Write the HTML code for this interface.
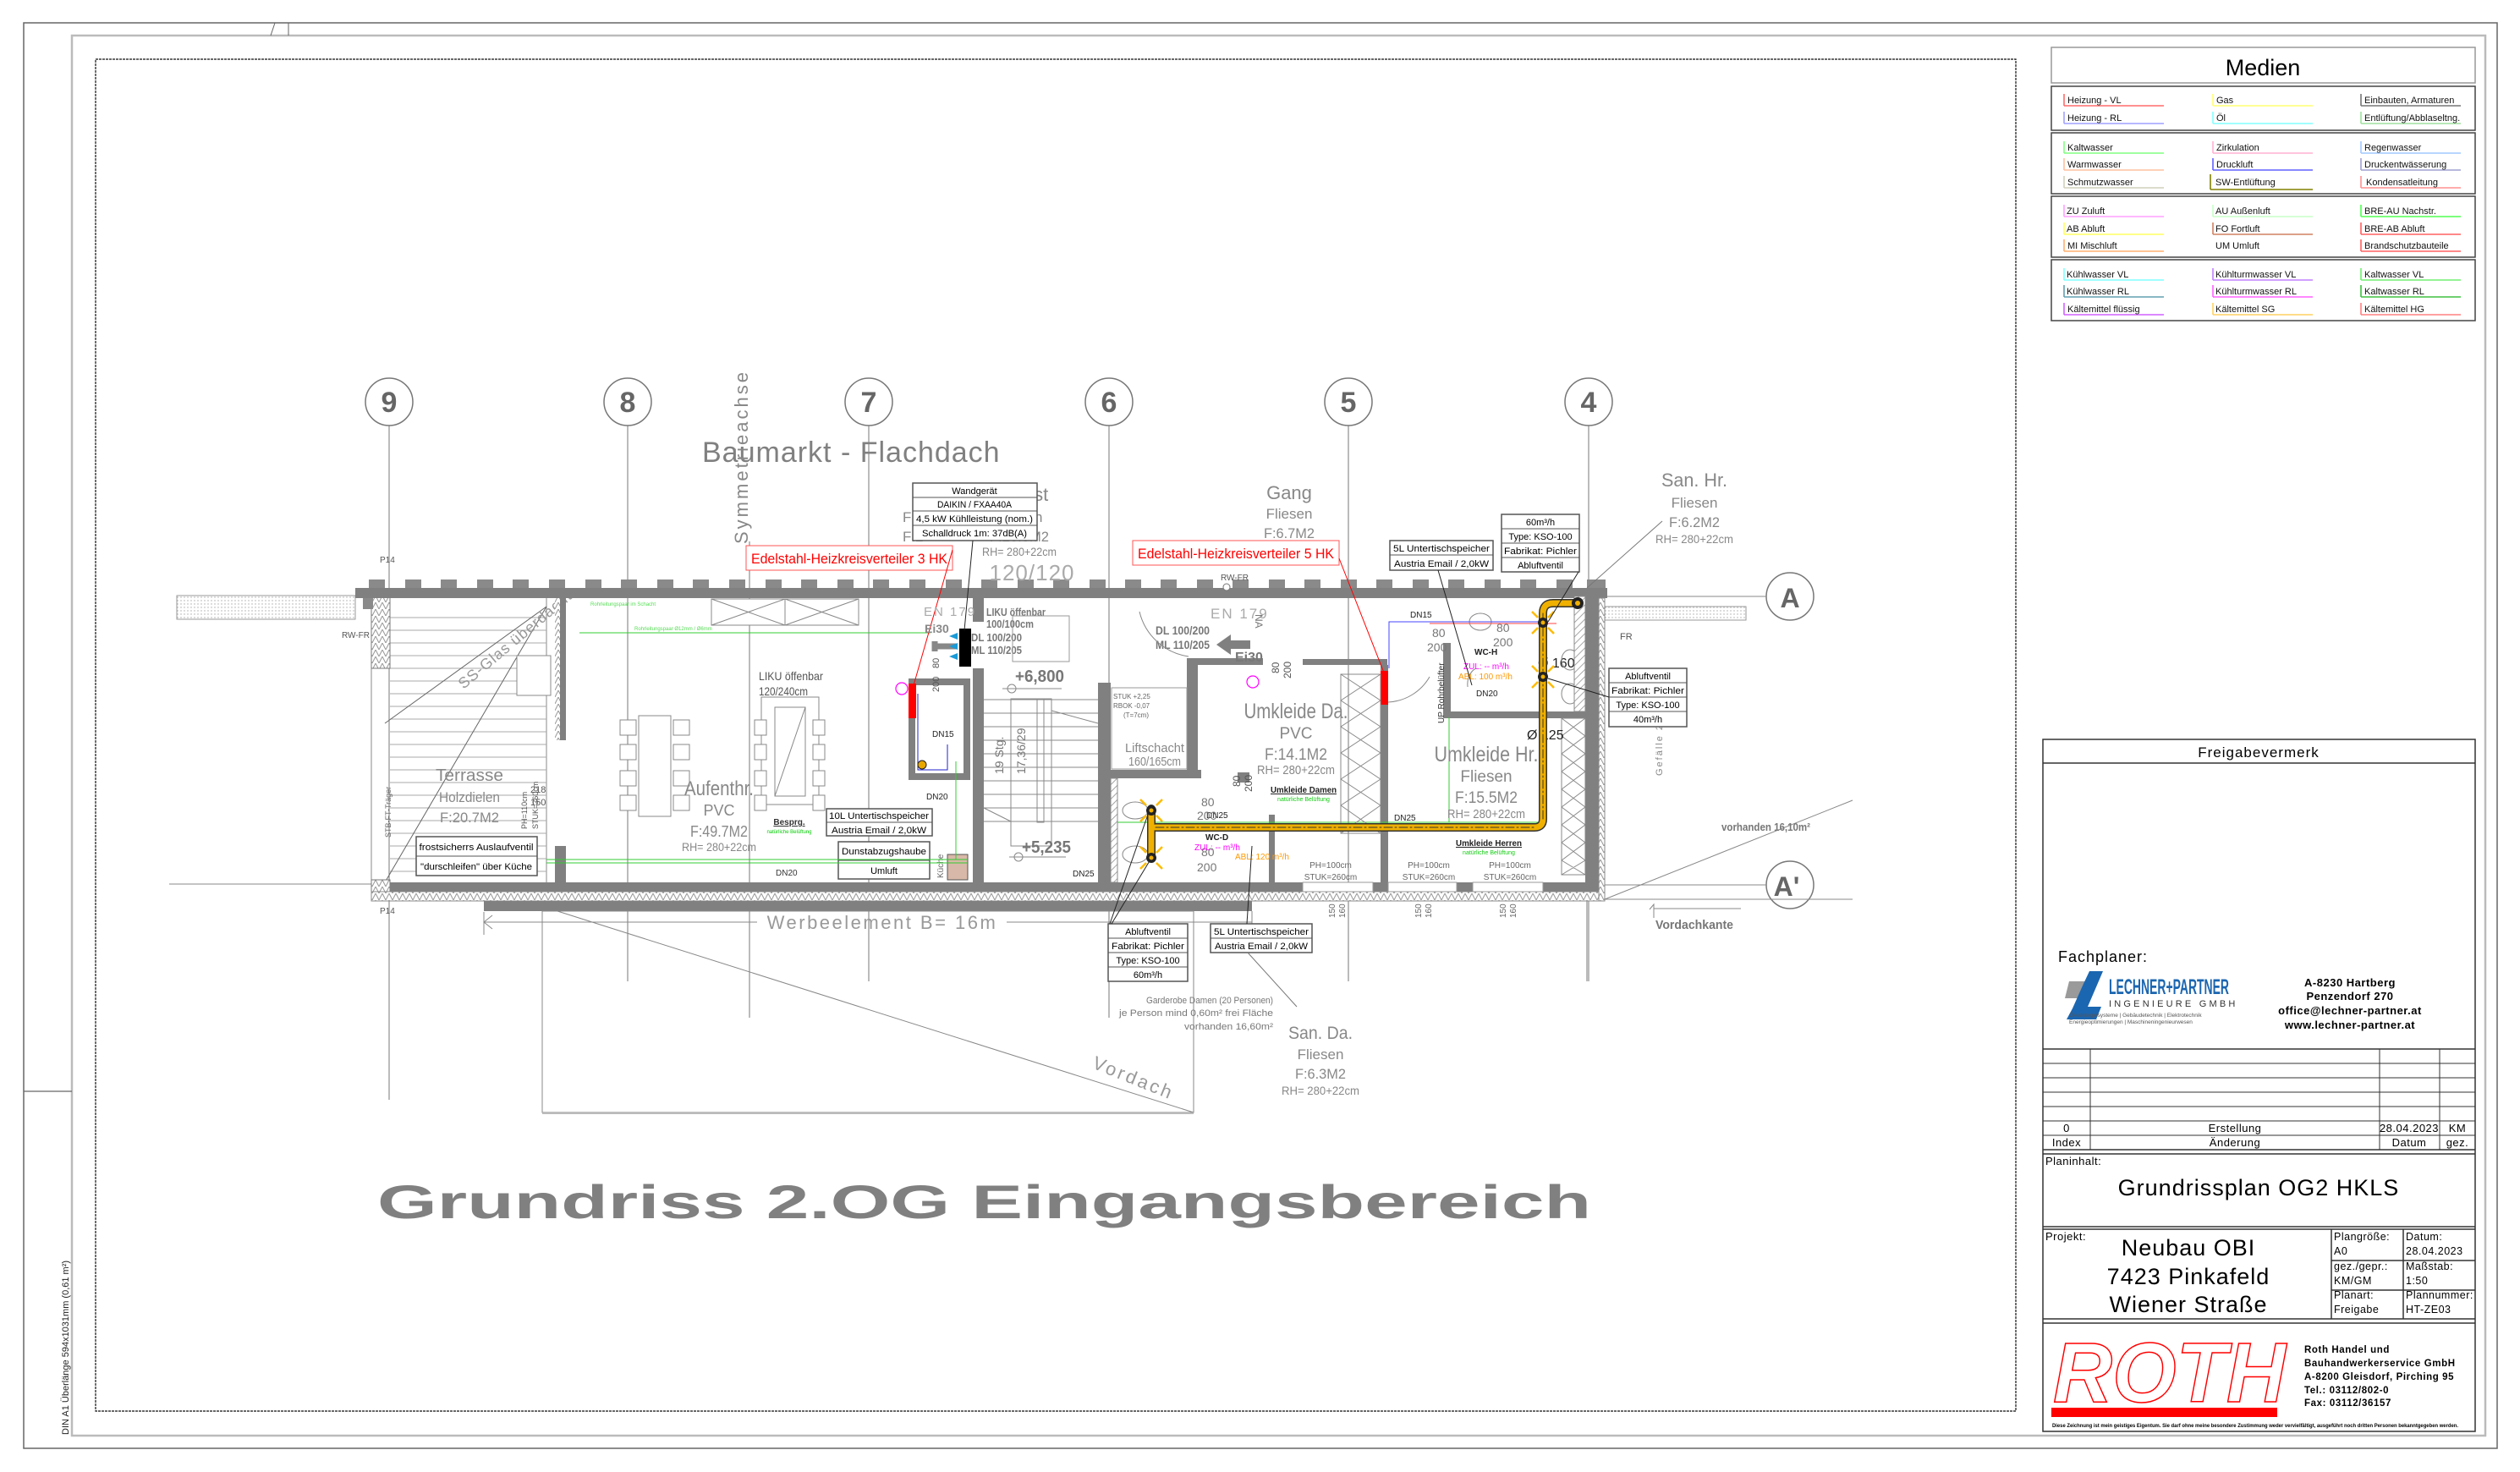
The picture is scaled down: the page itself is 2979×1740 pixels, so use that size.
<!DOCTYPE html>
<html><head><meta charset="utf-8"><style>
html,body{margin:0;padding:0;background:#fff;}
svg{display:block;}
text{font-family:"Liberation Sans",sans-serif;}
.n{font-family:"Liberation Sans Narrow","Liberation Sans",sans-serif;}
.g{fill:#808080;}
.bx{fill:#fff;stroke:#555;stroke-width:1.5;}
.t11{font-size:11px;fill:#000;}
</style></head><body>
<svg width="2979" height="1740" viewBox="0 0 2979 1740" xmlns="http://www.w3.org/2000/svg">
<defs>
<pattern id="hat" width="6" height="6" patternUnits="userSpaceOnUse" patternTransform="rotate(45)">
<rect width="6" height="6" fill="#fff"/><line x1="0" y1="0" x2="0" y2="6" stroke="#888" stroke-width="1.5"/></pattern>
<pattern id="zig" width="8" height="8" patternUnits="userSpaceOnUse">
<rect width="8" height="8" fill="#fff"/><path d="M0,8 L4,0 L8,8" fill="none" stroke="#999" stroke-width="1"/></pattern>
<pattern id="dots" width="4" height="4" patternUnits="userSpaceOnUse">
<rect width="4" height="4" fill="#fff"/><circle cx="2" cy="2" r="0.7" fill="#aaa"/></pattern>
</defs>

<!-- frames -->
<rect x="28" y="27" width="2924" height="1685" fill="none" stroke="#666" stroke-width="1.5"/>
<rect x="85" y="42" width="2853" height="1655" fill="none" stroke="#bbb" stroke-width="2.5"/>
<rect x="113" y="70" width="2270" height="1598" fill="none" stroke="#111" stroke-width="1.2" stroke-dasharray="3,1"/>
<line x1="28" y1="1290" x2="85" y2="1290" stroke="#666" stroke-width="1.2"/>
<line x1="325" y1="27" x2="320" y2="42" stroke="#666"/><line x1="341" y1="27" x2="341" y2="42" stroke="#666"/>
<text transform="translate(81,1696) rotate(-90)" font-size="11" fill="#222">DIN A1 Überlänge 594x1031mm (0,61 m²)</text>

<!-- ============ MEDIEN ============ -->
<g stroke="#444" stroke-width="1.5" fill="none">
<rect x="2425" y="56" width="501" height="42" stroke="#999"/>
<rect x="2425" y="102" width="501" height="52"/>
<rect x="2425" y="157" width="501" height="72"/>
<rect x="2425" y="232" width="501" height="72"/>
<rect x="2425" y="307" width="501" height="72"/>
</g>
<text x="2675" y="89" font-size="27" text-anchor="middle" fill="#000">Medien</text>
<g font-size="11" fill="#111" stroke-width="1.6">
<g><line x1="2440" y1="111" x2="2440" y2="125" stroke="#ff6a6a"/><line x1="2440" y1="125" x2="2558" y2="125" stroke="#ff6a6a"/><text x="2444" y="122">Heizung - VL</text></g>
<g><line x1="2440" y1="132" x2="2440" y2="146" stroke="#a0a0ff"/><line x1="2440" y1="146" x2="2558" y2="146" stroke="#a0a0ff"/><text x="2444" y="143">Heizung - RL</text></g>
<g><line x1="2616" y1="111" x2="2616" y2="125" stroke="#ffff70"/><line x1="2616" y1="125" x2="2734" y2="125" stroke="#ffff70"/><text x="2620" y="122">Gas</text></g>
<g><line x1="2616" y1="132" x2="2616" y2="146" stroke="#80ffff"/><line x1="2616" y1="146" x2="2734" y2="146" stroke="#80ffff"/><text x="2620" y="143">Öl</text></g>
<g><line x1="2791" y1="111" x2="2791" y2="125" stroke="#777"/><line x1="2791" y1="125" x2="2909" y2="125" stroke="#777"/><text x="2795" y="122">Einbauten, Armaturen</text></g>
<g><line x1="2791" y1="132" x2="2791" y2="146" stroke="#9fdf9f"/><line x1="2791" y1="146" x2="2909" y2="146" stroke="#9fdf9f"/><text x="2795" y="143">Entlüftung/Abblaseltng.</text></g>

<g><line x1="2440" y1="167" x2="2440" y2="181" stroke="#80ff80"/><line x1="2440" y1="181" x2="2558" y2="181" stroke="#80ff80"/><text x="2444" y="178">Kaltwasser</text></g>
<g><line x1="2440" y1="187" x2="2440" y2="201" stroke="#ffc0a0"/><line x1="2440" y1="201" x2="2558" y2="201" stroke="#ffc0a0"/><text x="2444" y="198">Warmwasser</text></g>
<g><line x1="2440" y1="208" x2="2440" y2="222" stroke="#d0d0bc"/><line x1="2440" y1="222" x2="2558" y2="222" stroke="#d0d0bc"/><text x="2444" y="219">Schmutzwasser</text></g>
<g><line x1="2616" y1="167" x2="2616" y2="181" stroke="#ffb0d0"/><line x1="2616" y1="181" x2="2734" y2="181" stroke="#ffb0d0"/><text x="2620" y="178">Zirkulation</text></g>
<g><line x1="2616" y1="187" x2="2616" y2="201" stroke="#6060ff"/><line x1="2616" y1="201" x2="2734" y2="201" stroke="#6060ff"/><text x="2620" y="198">Druckluft</text></g>
<g><line x1="2613" y1="206" x2="2613" y2="224" stroke="#808000"/><line x1="2613" y1="224" x2="2734" y2="224" stroke="#808000"/><text x="2619" y="219">SW-Entlüftung</text></g>
<g><line x1="2791" y1="167" x2="2791" y2="181" stroke="#a0c8ff"/><line x1="2791" y1="181" x2="2909" y2="181" stroke="#a0c8ff"/><text x="2795" y="178">Regenwasser</text></g>
<g><line x1="2791" y1="187" x2="2791" y2="201" stroke="#a0a0d0"/><line x1="2791" y1="201" x2="2909" y2="201" stroke="#a0a0d0"/><text x="2795" y="198">Druckentwässerung</text></g>
<g><line x1="2791" y1="208" x2="2791" y2="222" stroke="#ff9090"/><line x1="2791" y1="222" x2="2909" y2="222" stroke="#ff9090"/><text x="2797" y="219">Kondensatleitung</text></g>

<g><line x1="2440" y1="242" x2="2440" y2="256" stroke="#ffa0ff"/><line x1="2440" y1="256" x2="2558" y2="256" stroke="#ffa0ff"/><text x="2443" y="253">ZU Zuluft</text></g>
<g><line x1="2440" y1="263" x2="2440" y2="277" stroke="#ffff60"/><line x1="2440" y1="277" x2="2558" y2="277" stroke="#ffff60"/><text x="2443" y="274">AB Abluft</text></g>
<g><line x1="2440" y1="283" x2="2440" y2="297" stroke="#ffb070"/><line x1="2440" y1="297" x2="2558" y2="297" stroke="#ffb070"/><text x="2444" y="294">MI Mischluft</text></g>
<g><line x1="2616" y1="242" x2="2616" y2="256" stroke="#c8ffc8"/><line x1="2616" y1="256" x2="2734" y2="256" stroke="#c8ffc8"/><text x="2619" y="253">AU Außenluft</text></g>
<g><line x1="2616" y1="263" x2="2616" y2="277" stroke="#d08060"/><line x1="2616" y1="277" x2="2734" y2="277" stroke="#d08060"/><text x="2619" y="274">FO Fortluft</text></g>
<g><text x="2619" y="294">UM Umluft</text></g>
<g><line x1="2791" y1="242" x2="2791" y2="256" stroke="#50ff50"/><line x1="2791" y1="256" x2="2909" y2="256" stroke="#50ff50"/><text x="2795" y="253">BRE-AU Nachstr.</text></g>
<g><line x1="2791" y1="263" x2="2791" y2="277" stroke="#ff6060"/><line x1="2791" y1="277" x2="2909" y2="277" stroke="#ff6060"/><text x="2795" y="274">BRE-AB Abluft</text></g>
<g><line x1="2791" y1="283" x2="2791" y2="297" stroke="#ff6060"/><line x1="2791" y1="297" x2="2909" y2="297" stroke="#ff6060"/><text x="2795" y="294">Brandschutzbauteile</text></g>

<g><line x1="2440" y1="317" x2="2440" y2="331" stroke="#80ffff"/><line x1="2440" y1="331" x2="2558" y2="331" stroke="#80ffff"/><text x="2443" y="328">Kühlwasser VL</text></g>
<g><line x1="2440" y1="337" x2="2440" y2="351" stroke="#60a0b0"/><line x1="2440" y1="351" x2="2558" y2="351" stroke="#60a0b0"/><text x="2443" y="348">Kühlwasser RL</text></g>
<g><line x1="2440" y1="358" x2="2440" y2="372" stroke="#d060ff"/><line x1="2440" y1="372" x2="2558" y2="372" stroke="#d060ff"/><text x="2444" y="369">Kältemittel flüssig</text></g>
<g><line x1="2616" y1="317" x2="2616" y2="331" stroke="#c080ff"/><line x1="2616" y1="331" x2="2734" y2="331" stroke="#c080ff"/><text x="2619" y="328">Kühlturmwasser VL</text></g>
<g><line x1="2616" y1="337" x2="2616" y2="351" stroke="#ff60ff"/><line x1="2616" y1="351" x2="2734" y2="351" stroke="#ff60ff"/><text x="2619" y="348">Kühlturmwasser RL</text></g>
<g><line x1="2616" y1="358" x2="2616" y2="372" stroke="#ffd060"/><line x1="2616" y1="372" x2="2734" y2="372" stroke="#ffd060"/><text x="2619" y="369">Kältemittel SG</text></g>
<g><line x1="2791" y1="317" x2="2791" y2="331" stroke="#70f070"/><line x1="2791" y1="331" x2="2909" y2="331" stroke="#70f070"/><text x="2795" y="328">Kaltwasser VL</text></g>
<g><line x1="2791" y1="337" x2="2791" y2="351" stroke="#40c040"/><line x1="2791" y1="351" x2="2909" y2="351" stroke="#40c040"/><text x="2795" y="348">Kaltwasser RL</text></g>
<g><line x1="2791" y1="358" x2="2791" y2="372" stroke="#ff8080"/><line x1="2791" y1="372" x2="2909" y2="372" stroke="#ff8080"/><text x="2795" y="369">Kältemittel HG</text></g>
</g>

<!-- ============ TITLE BLOCK ============ -->
<g stroke="#333" stroke-width="1.5" fill="none">
<rect x="2415" y="874" width="511" height="818"/>
<line x1="2415" y1="902" x2="2926" y2="902"/>
<line x1="2415" y1="1240" x2="2926" y2="1240"/>
<g stroke-width="1">
<line x1="2415" y1="1257" x2="2926" y2="1257"/><line x1="2415" y1="1274" x2="2926" y2="1274"/>
<line x1="2415" y1="1291" x2="2926" y2="1291"/><line x1="2415" y1="1308" x2="2926" y2="1308"/>
<line x1="2415" y1="1325" x2="2926" y2="1325"/><line x1="2415" y1="1342" x2="2926" y2="1342"/>
<line x1="2471" y1="1240" x2="2471" y2="1359"/><line x1="2813" y1="1240" x2="2813" y2="1359"/><line x1="2884" y1="1240" x2="2884" y2="1359"/>
</g>
<line x1="2415" y1="1359" x2="2926" y2="1359"/>
<line x1="2415" y1="1364" x2="2926" y2="1364"/>
<line x1="2415" y1="1450" x2="2926" y2="1450"/>
<line x1="2415" y1="1453" x2="2926" y2="1453"/>
<line x1="2756" y1="1453" x2="2756" y2="1559"/><line x1="2841" y1="1453" x2="2841" y2="1559"/>
<line x1="2756" y1="1490" x2="2926" y2="1490"/><line x1="2756" y1="1525" x2="2926" y2="1525"/>
<line x1="2415" y1="1559" x2="2926" y2="1559"/>
<line x1="2415" y1="1564" x2="2926" y2="1564"/>
</g>
<text x="2670" y="895" font-size="17" text-anchor="middle" letter-spacing="1" fill="#000">Freigabevermerk</text>
<text x="2433" y="1137" font-size="18" letter-spacing="1" fill="#000">Fachplaner:</text>
<!-- Lechner logo -->
<polygon points="2446,1160 2470,1160 2458,1180 2441,1180" fill="#9a9a9a"/>
<polygon points="2470,1148 2486,1148 2468,1190 2484,1190 2478,1205 2443,1205 2450,1192 2462,1165" fill="#1b66b0"/>
<text x="2493" y="1175" font-size="25" font-weight="bold" fill="#1b66b0" textLength="142" lengthAdjust="spacingAndGlyphs">LECHNER+PARTNER</text>
<text x="2493" y="1190" font-size="11" letter-spacing="3.2" fill="#333">INGENIEURE GMBH</text>
<text x="2446" y="1202" font-size="6.5" fill="#555">Ökoenergiesysteme | Gebäudetechnik | Elektrotechnik</text>
<text x="2446" y="1210" font-size="6.5" fill="#555">Energieoptimierungen | Maschineningenieurwesen</text>
<g font-size="13" font-weight="bold" text-anchor="middle" fill="#000" letter-spacing="0.5">
<text x="2778" y="1166">A-8230 Hartberg</text>
<text x="2778" y="1182">Penzendorf 270</text>
<text x="2778" y="1199">office@lechner-partner.at</text>
<text x="2778" y="1216">www.lechner-partner.at</text>
</g>
<g font-size="13" fill="#000" text-anchor="middle" letter-spacing="0.5">
<text x="2443" y="1338">0</text><text x="2642" y="1338">Erstellung</text><text x="2848" y="1338">28.04.2023</text><text x="2905" y="1338">KM</text>
<text x="2443" y="1355">Index</text><text x="2642" y="1355">Änderung</text><text x="2848" y="1355">Datum</text><text x="2905" y="1355">gez.</text>
</g>
<text x="2418" y="1377" font-size="13" fill="#000" letter-spacing="0.5">Planinhalt:</text>
<text x="2670" y="1413" font-size="27" text-anchor="middle" fill="#000" letter-spacing="1">Grundrissplan OG2 HKLS</text>
<text x="2418" y="1466" font-size="13" fill="#000" letter-spacing="0.5">Projekt:</text>
<g font-size="27" text-anchor="middle" fill="#000" letter-spacing="1">
<text x="2587" y="1484">Neubau OBI</text>
<text x="2587" y="1518">7423 Pinkafeld</text>
<text x="2587" y="1551">Wiener Straße</text>
</g>
<g font-size="12.5" fill="#000" letter-spacing="0.5">
<text x="2759" y="1466">Plangröße:</text><text x="2759" y="1483">A0</text>
<text x="2844" y="1466">Datum:</text><text x="2844" y="1483">28.04.2023</text>
<text x="2759" y="1501">gez./gepr.:</text><text x="2759" y="1518">KM/GM</text>
<text x="2844" y="1501">Maßstab:</text><text x="2844" y="1518">1:50</text>
<text x="2759" y="1535">Planart:</text><text x="2759" y="1552">Freigabe</text>
<text x="2844" y="1535">Plannummer:</text><text x="2844" y="1552">HT-ZE03</text>
</g>
<text x="2427" y="1657" font-size="100" font-weight="bold" font-style="italic" fill="none" stroke="#f00" stroke-width="1.5" textLength="275" lengthAdjust="spacingAndGlyphs">ROTH</text>
<rect x="2425" y="1664" width="267" height="11" fill="#f00"/>
<g font-size="11.5" font-weight="bold" fill="#000" letter-spacing="0.6">
<text x="2724" y="1599">Roth Handel und</text>
<text x="2724" y="1615">Bauhandwerkerservice GmbH</text>
<text x="2724" y="1631">A-8200 Gleisdorf, Pirching 95</text>
<text x="2724" y="1647">Tel.: 03112/802-0</text>
<text x="2724" y="1662">Fax: 03112/36157</text>
</g>
<text x="2426" y="1687" font-size="6.5" font-weight="bold" fill="#000" textLength="480" lengthAdjust="spacingAndGlyphs">Diese Zeichnung ist mein geistiges Eigentum. Sie darf ohne meine besondere Zustimmung weder vervielfältigt, ausgeführt noch dritten Personen bekanntgegeben werden.</text>

<!-- ============ PLAN ============ -->
<g stroke="#777" stroke-width="1" fill="none">
<line x1="460" y1="503" x2="460" y2="1300"/>
<line x1="742" y1="503" x2="742" y2="1160"/>
<line x1="1027" y1="503" x2="1027" y2="1160"/>
<line x1="1311" y1="503" x2="1311" y2="1203"/>
<line x1="1594" y1="503" x2="1594" y2="1160"/>
<line x1="1878" y1="503" x2="1878" y2="1160"/>
<line x1="886" y1="640" x2="886" y2="1203"/>
<line x1="1876" y1="1065" x2="1876" y2="1160"/>
</g>
<g fill="#fff" stroke="#777" stroke-width="1.5">
<ellipse cx="460" cy="475" rx="28" ry="28"/><ellipse cx="742" cy="475" rx="28" ry="28"/>
<ellipse cx="1027" cy="475" rx="28" ry="28"/><ellipse cx="1311" cy="475" rx="28" ry="28"/>
<ellipse cx="1594" cy="475" rx="28" ry="28"/><ellipse cx="1878" cy="475" rx="28" ry="28"/>
<circle cx="2116" cy="705" r="28"/><circle cx="2116" cy="1046" r="28"/>
</g>
<g font-size="34" font-weight="bold" fill="#666" text-anchor="middle">
<text x="460" y="487">9</text><text x="742" y="487">8</text><text x="1027" y="487">7</text>
<text x="1311" y="487">6</text><text x="1594" y="487">5</text><text x="1878" y="487">4</text>
<text x="2116" y="718" font-size="32">A</text><text x="2112" y="1059" font-size="32">A'</text>
</g>

<text x="830" y="546" font-size="34" class="g" letter-spacing="1">Baumarkt - Flachdach</text>
<text transform="translate(884,643) rotate(-90)" font-size="22" fill="#888" textLength="203" lengthAdjust="spacing">Symmetrieachse</text>

<rect x="209" y="704" width="211" height="28" fill="url(#dots)" stroke="#999" stroke-width="1"/>
<line x1="200" y1="1045" x2="439" y2="1045" stroke="#888"/>
<rect x="1890" y="717" width="174" height="16" fill="url(#dots)" stroke="#999" stroke-width="1"/>
<g stroke="#888" stroke-width="1">
<line x1="1897" y1="705" x2="2088" y2="705"/>
<line x1="1897" y1="1046" x2="2088" y2="1046"/>
<line x1="1897" y1="1063" x2="2190" y2="1063"/>
<line x1="1897" y1="1063" x2="2190" y2="946"/>
<polyline points="1955,1085 1955,1069 1950,1075 M1955,1069 1960,1075" fill="none"/>
<line x1="1955" y1="1074" x2="2058" y2="1074"/>
</g>
<text x="2003" y="1098" font-size="15" font-weight="bold" fill="#777" text-anchor="middle" textLength="92" lengthAdjust="spacingAndGlyphs">Vordachkante</text>
<text x="2035" y="982" font-size="13" font-weight="bold" fill="#777" textLength="105" lengthAdjust="spacingAndGlyphs">vorhanden 16,10m²</text>
<text transform="translate(1965,917) rotate(-90)" font-size="11" fill="#888" letter-spacing="2">Gefälle 2%</text>

<g fill="#8a8a8a">
<rect x="436" y="685" width="19" height="10"/><rect x="479" y="685" width="19" height="10"/><rect x="521" y="685" width="19" height="10"/><rect x="564" y="685" width="19" height="10"/><rect x="606" y="685" width="19" height="10"/><rect x="649" y="685" width="19" height="10"/><rect x="692" y="685" width="19" height="10"/><rect x="734" y="685" width="19" height="10"/><rect x="777" y="685" width="19" height="10"/><rect x="819" y="685" width="19" height="10"/><rect x="862" y="685" width="19" height="10"/><rect x="905" y="685" width="19" height="10"/><rect x="947" y="685" width="19" height="10"/><rect x="990" y="685" width="19" height="10"/><rect x="1032" y="685" width="19" height="10"/><rect x="1075" y="685" width="19" height="10"/><rect x="1118" y="685" width="19" height="10"/><rect x="1160" y="685" width="19" height="10"/><rect x="1203" y="685" width="19" height="10"/><rect x="1245" y="685" width="19" height="10"/><rect x="1288" y="685" width="19" height="10"/><rect x="1330" y="685" width="19" height="10"/><rect x="1372" y="685" width="19" height="10"/><rect x="1415" y="685" width="19" height="10"/><rect x="1457" y="685" width="19" height="10"/><rect x="1500" y="685" width="19" height="10"/><rect x="1542" y="685" width="19" height="10"/><rect x="1585" y="685" width="19" height="10"/><rect x="1627" y="685" width="19" height="10"/><rect x="1670" y="685" width="19" height="10"/><rect x="1712" y="685" width="19" height="10"/><rect x="1755" y="685" width="19" height="10"/><rect x="1797" y="685" width="19" height="10"/><rect x="1840" y="685" width="19" height="10"/><rect x="1876" y="685" width="22" height="10"/>
</g>

<!-- terrace -->
<rect x="439" y="706" width="207" height="359" fill="none" stroke="#888"/>
<g stroke="#aaa" stroke-width="1">
<line x1="461" y1="730" x2="646" y2="730"/><line x1="461" y1="745" x2="646" y2="745"/><line x1="461" y1="760" x2="646" y2="760"/><line x1="461" y1="775" x2="646" y2="775"/><line x1="461" y1="790" x2="646" y2="790"/><line x1="461" y1="805" x2="646" y2="805"/><line x1="461" y1="820" x2="646" y2="820"/><line x1="461" y1="835" x2="646" y2="835"/><line x1="461" y1="850" x2="646" y2="850"/><line x1="461" y1="865" x2="646" y2="865"/><line x1="461" y1="880" x2="646" y2="880"/><line x1="461" y1="895" x2="646" y2="895"/><line x1="461" y1="910" x2="646" y2="910"/><line x1="461" y1="925" x2="646" y2="925"/><line x1="461" y1="940" x2="646" y2="940"/><line x1="461" y1="955" x2="646" y2="955"/><line x1="461" y1="970" x2="646" y2="970"/><line x1="461" y1="985" x2="646" y2="985"/><line x1="461" y1="1000" x2="646" y2="1000"/><line x1="461" y1="1015" x2="646" y2="1015"/><line x1="461" y1="1030" x2="646" y2="1030"/>
</g>
<g stroke="#666" stroke-width="1"><line x1="646" y1="717" x2="455" y2="855"/><line x1="646" y1="717" x2="455" y2="1043"/></g>
<rect x="439" y="706" width="22" height="84" fill="url(#zig)" stroke="#777"/>
<rect x="439" y="1040" width="22" height="25" fill="url(#zig)" stroke="#777"/>
<rect x="429" y="700" width="12" height="20" fill="#8a8a8a"/>
<text transform="translate(548,815) rotate(-40)" font-size="18" fill="#999" letter-spacing="1">SS-Glas überdacht</text>
<text x="555" y="923" font-size="20" fill="#888" text-anchor="middle" textLength="80" lengthAdjust="spacingAndGlyphs">Terrasse</text>
<text x="555" y="948" font-size="17" fill="#888" text-anchor="middle" textLength="72" lengthAdjust="spacingAndGlyphs">Holzdielen</text>
<text x="555" y="972" font-size="17" fill="#888" text-anchor="middle" textLength="70" lengthAdjust="spacingAndGlyphs">F:20.7M2</text>
<text x="404" y="754" font-size="10" fill="#555">RW-FR</text>
<text x="449" y="665" font-size="10" fill="#555">P14</text>
<text x="449" y="1080" font-size="10" fill="#555">P14</text>
<text x="629" y="795" font-size="12" fill="#555">80</text><text x="624" y="811" font-size="12" fill="#555">240</text>
<text x="627" y="937" font-size="11" fill="#555">218</text><text x="627" y="952" font-size="11" fill="#555">150</text>
<text transform="translate(462,990) rotate(-90)" font-size="9" fill="#666">STB-FT-Träger</text>
<rect x="492" y="989" width="143" height="46" class="bx"/><line x1="492" y1="1012" x2="635" y2="1012" stroke="#555"/>
<text x="563" y="1005" font-size="11" fill="#000" text-anchor="middle" textLength="135" lengthAdjust="spacingAndGlyphs">frostsicherrs Auslaufventil</text>
<text x="563" y="1028" font-size="11" fill="#000" text-anchor="middle" textLength="132" lengthAdjust="spacingAndGlyphs">"durschleifen" über Küche</text>

<!-- main walls -->
<g fill="#808080">
<rect x="420" y="695" width="1480" height="12"/>
<rect x="461" y="1043" width="1429" height="11"/>
<rect x="1874" y="695" width="16" height="359"/>
<rect x="656" y="707" width="13" height="168"/>
<rect x="656" y="1000" width="13" height="43"/>
<rect x="1150" y="707" width="13" height="28"/>
<rect x="1150" y="790" width="13" height="253"/>
<rect x="1298" y="807" width="15" height="236"/>
<rect x="1313" y="910" width="107" height="10"/>
<rect x="1403" y="778" width="13" height="132"/>
<rect x="1403" y="778" width="90" height="8"/>
<rect x="1540" y="779" width="100" height="7"/>
<rect x="1632" y="786" width="9" height="257"/>
<rect x="1706" y="760" width="9" height="86"/>
<rect x="1706" y="841" width="168" height="8"/>
<rect x="1463" y="913" width="14" height="12"/>
<rect x="1500" y="963" width="7" height="80"/>
<rect x="1623" y="1043" width="16" height="15"/>
<rect x="1722" y="1043" width="19" height="15"/>
<rect x="1824" y="1043" width="51" height="15"/>
</g>
<rect x="1078" y="806" width="65" height="112" fill="#fff" stroke="#808080" stroke-width="8"/>
<rect x="656" y="707" width="6" height="168" fill="url(#zig)"/>
<rect x="439" y="1054" width="1458" height="11" fill="url(#zig)" stroke="#888" stroke-width="1"/>
<rect x="1890" y="707" width="7" height="358" fill="url(#zig)" stroke="#888" stroke-width="1"/>
<g fill="#fff" stroke="#999"><rect x="1540" y="1043" width="83" height="11"/><rect x="1641" y="1043" width="81" height="11"/><rect x="1741" y="1043" width="83" height="11"/></g>
<rect x="572" y="1065" width="908" height="12" fill="#808080"/>
<g stroke="#888" stroke-width="1" fill="none">
<line x1="572" y1="1090" x2="895" y2="1090"/><line x1="1190" y1="1090" x2="1480" y2="1090"/>
<polyline points="582,1082 572,1090 582,1098"/><line x1="572" y1="1078" x2="572" y2="1105"/>
<rect x="641" y="1077" width="770" height="238"/>
<line x1="659" y1="1077" x2="1411" y2="1315"/>
<line x1="1480" y1="1077" x2="1480" y2="1100"/>
</g>
<line x1="641" y1="1316" x2="1411" y2="1316" stroke="#bbb" stroke-width="2"/>
<text x="1043" y="1098" font-size="22" fill="#999" text-anchor="middle" letter-spacing="2.5">Werbeelement B= 16m</text>
<text transform="translate(1290,1262) rotate(22)" font-size="22" fill="#999" letter-spacing="3">Vordach</text>

<!-- Aufenthalt furniture -->
<g fill="#fff" stroke="#888" stroke-width="1">
<rect x="841" y="708" width="87" height="31"/><rect x="928" y="708" width="87" height="31"/>
<rect x="755" y="846" width="38" height="119"/>
<rect x="733" y="851" width="19" height="18"/><rect x="733" y="880" width="19" height="18"/><rect x="733" y="911" width="19" height="18"/><rect x="733" y="940" width="19" height="18"/>
<rect x="796" y="851" width="19" height="18"/><rect x="796" y="880" width="19" height="18"/><rect x="796" y="911" width="19" height="18"/><rect x="796" y="940" width="19" height="18"/>
<rect x="900" y="824" width="68" height="127"/><rect x="916" y="836" width="36" height="105"/>
<rect x="892" y="851" width="14" height="18"/><rect x="892" y="880" width="14" height="18"/><rect x="892" y="911" width="14" height="18"/><rect x="892" y="940" width="14" height="18"/>
<rect x="961" y="851" width="14" height="18"/><rect x="961" y="880" width="14" height="18"/><rect x="961" y="911" width="14" height="18"/><rect x="961" y="940" width="14" height="18"/>
<rect x="611" y="775" width="40" height="47"/>
</g>
<g stroke="#888" stroke-width="1"><line x1="841" y1="708" x2="928" y2="739"/><line x1="841" y1="739" x2="928" y2="708"/><line x1="928" y1="708" x2="1015" y2="739"/><line x1="928" y1="739" x2="1015" y2="708"/><line x1="916" y1="941" x2="952" y2="836"/></g>
<text x="897" y="804" font-size="14" fill="#555" textLength="76" lengthAdjust="spacingAndGlyphs">LIKU öffenbar</text>
<text x="897" y="822" font-size="14" fill="#555" textLength="58" lengthAdjust="spacingAndGlyphs">120/240cm</text>
<text x="850" y="940" font-size="24" fill="#888" text-anchor="middle" textLength="82" lengthAdjust="spacingAndGlyphs">Aufenthr.</text>
<text x="850" y="964" font-size="18" fill="#888" text-anchor="middle">PVC</text>
<text x="850" y="989" font-size="18" fill="#888" text-anchor="middle" textLength="68" lengthAdjust="spacingAndGlyphs">F:49.7M2</text>
<text x="850" y="1006" font-size="14" fill="#888" text-anchor="middle" textLength="88" lengthAdjust="spacingAndGlyphs">RH= 280+22cm</text>
<text x="933" y="975" font-size="10" font-weight="bold" fill="#333" text-anchor="middle" text-decoration="underline">Besprg.</text>
<text x="933" y="985" font-size="6" fill="#0c0" text-anchor="middle">natürliche Belüftung</text>
<text x="917" y="1035" font-size="10" fill="#333">DN20</text>
<text transform="translate(623,980) rotate(-90)" font-size="9" fill="#555">PH=110cm</text>
<text transform="translate(636,980) rotate(-90)" font-size="9" fill="#555">STUK=260cm</text>
<rect x="977" y="956" width="125" height="32" class="bx"/><line x1="977" y1="972" x2="1102" y2="972" stroke="#555"/>
<text x="1039" y="968" font-size="11" fill="#000" text-anchor="middle" textLength="118" lengthAdjust="spacingAndGlyphs">10L Untertischspeicher</text>
<text x="1039" y="985" font-size="11" fill="#000" text-anchor="middle" textLength="112" lengthAdjust="spacingAndGlyphs">Austria Email / 2,0kW</text>
<rect x="991" y="995" width="108" height="44" class="bx"/><line x1="991" y1="1017" x2="1099" y2="1017" stroke="#555"/>
<text x="1045" y="1010" font-size="11" fill="#000" text-anchor="middle" textLength="100" lengthAdjust="spacingAndGlyphs">Dunstabzugshaube</text>
<text x="1045" y="1033" font-size="11" fill="#000" text-anchor="middle">Umluft</text>
<rect x="1120" y="1010" width="24" height="30" fill="#d8b8a8" stroke="#555"/>
<text transform="translate(1115,1038) rotate(-90)" font-size="10" fill="#666">Küche</text>
<g stroke="#3c3" stroke-width="1" fill="none">
<line x1="646" y1="1016" x2="1144" y2="1016"/><line x1="646" y1="1020" x2="1144" y2="1020"/>
<line x1="685" y1="748" x2="1100" y2="748"/>
<line x1="1314" y1="972" x2="1824" y2="972"/>
<line x1="1130" y1="900" x2="1130" y2="1016"/>
<line x1="1713" y1="848" x2="1713" y2="972"/>
</g>
<text x="698" y="716" font-size="6" fill="#5d5">Rohrleitungspaar im Schacht</text>
<text x="750" y="745" font-size="6" fill="#5d5">Rohrleitungspaar Ø12mm / Ø6mm</text>

<!-- 3HK -->
<rect x="882" y="645" width="244" height="29" fill="#fff" stroke="#f55" stroke-width="1"/>
<text x="1004" y="666" font-size="17" fill="#f00" text-anchor="middle" textLength="232" lengthAdjust="spacingAndGlyphs">Edelstahl-Heizkreisverteiler 3 HK</text>
<polyline points="1126,650 1080,810" stroke="#f00" fill="none" stroke-width="1"/>
<rect x="1074" y="808" width="9" height="41" fill="#f00"/>
<circle cx="1066" cy="814" r="7" fill="none" stroke="#f0f" stroke-width="1.2"/>
<rect x="1134" y="743" width="14" height="45" fill="#000"/>
<path d="M1105,764 L1130,764 M1105,758 L1105,770" stroke="#888" stroke-width="7"/>
<g fill="#1a9ad6"><polygon points="1132,748 1122,752 1132,756"/><polygon points="1132,760 1122,764 1132,768"/><polygon points="1132,772 1122,776 1132,780"/></g>
<g stroke="#22c" stroke-width="1" fill="none"><polyline points="1085,820 1085,910 1120,910 1120,880"/></g>
<text x="1102" y="871" font-size="10" fill="#222">DN15</text>
<text x="1095" y="945" font-size="10" fill="#222">DN20</text>
<circle cx="1090" cy="904" r="5" fill="#e8a800" stroke="#222"/>
<text x="1093" y="748" font-size="14" font-weight="bold" fill="#888">Ei30</text>
<text x="1092" y="728" font-size="15" fill="#aaa" letter-spacing="2">EN 179</text>
<text x="1166" y="728" font-size="13" font-weight="bold" fill="#777" textLength="70" lengthAdjust="spacingAndGlyphs">LIKU öffenbar</text>
<text x="1166" y="742" font-size="13" font-weight="bold" fill="#777" textLength="56" lengthAdjust="spacingAndGlyphs">100/100cm</text>
<text x="1148" y="758" font-size="13" font-weight="bold" fill="#777" textLength="60" lengthAdjust="spacingAndGlyphs">DL 100/200</text>
<text x="1148" y="773" font-size="13" font-weight="bold" fill="#777" textLength="60" lengthAdjust="spacingAndGlyphs">ML 110/205</text>
<rect x="1197" y="728" width="67" height="54" fill="none" stroke="#999"/>
<text transform="translate(1110,790) rotate(-90)" font-size="11" fill="#555">80</text><text transform="translate(1110,818) rotate(-90)" font-size="11" fill="#555">200</text>

<!-- stairs -->
<g stroke="#888" stroke-width="1" fill="none">
<line x1="1163" y1="827" x2="1298" y2="827"/><line x1="1163" y1="843" x2="1298" y2="843"/><line x1="1163" y1="859" x2="1298" y2="859"/><line x1="1163" y1="875" x2="1298" y2="875"/><line x1="1163" y1="891" x2="1298" y2="891"/><line x1="1163" y1="907" x2="1298" y2="907"/><line x1="1163" y1="923" x2="1298" y2="923"/><line x1="1163" y1="939" x2="1298" y2="939"/><line x1="1163" y1="955" x2="1298" y2="955"/><line x1="1163" y1="971" x2="1298" y2="971"/>
<rect x="1195" y="826" width="48" height="174"/><rect x="1226" y="826" width="8" height="146"/>
<line x1="1163" y1="955" x2="1195" y2="971"/><line x1="1243" y1="840" x2="1298" y2="855"/>
<circle cx="1196" cy="814" r="5"/><line x1="1185" y1="814" x2="1255" y2="814"/>
<circle cx="1204" cy="1013" r="5"/><line x1="1193" y1="1013" x2="1260" y2="1013"/>
</g>
<text x="1229" y="806" font-size="20" font-weight="bold" fill="#777" text-anchor="middle" textLength="58" lengthAdjust="spacingAndGlyphs">+6,800</text>
<text x="1237" y="1008" font-size="20" font-weight="bold" fill="#777" text-anchor="middle" textLength="58" lengthAdjust="spacingAndGlyphs">+5,235</text>
<text transform="translate(1186,915) rotate(-90)" font-size="14" fill="#777">19 Stg.</text>
<text transform="translate(1212,915) rotate(-90)" font-size="14" fill="#777">17,36/29</text>

<!-- lift -->
<rect x="1314" y="813" width="89" height="96" fill="none" stroke="#999"/>
<text x="1316" y="826" font-size="8" fill="#666">STUK +2,25</text><text x="1316" y="837" font-size="8" fill="#666">RBOK -0,07</text><text x="1328" y="848" font-size="8" fill="#666">(T=7cm)</text>
<text x="1365" y="889" font-size="15" fill="#888" text-anchor="middle" textLength="70" lengthAdjust="spacingAndGlyphs">Liftschacht</text>
<text x="1365" y="905" font-size="15" fill="#888" text-anchor="middle" textLength="62" lengthAdjust="spacingAndGlyphs">160/165cm</text>

<!-- Gang / Podest -->
<text x="1205" y="592" font-size="22" fill="#888" text-anchor="middle">Podest</text>
<text x="1205" y="617" font-size="17" fill="#888" text-anchor="middle">Fliesen</text>
<text x="1205" y="640" font-size="17" fill="#888" text-anchor="middle" textLength="70" lengthAdjust="spacingAndGlyphs">F:28.5M2</text>
<text x="1205" y="657" font-size="14" fill="#888" text-anchor="middle" textLength="88" lengthAdjust="spacingAndGlyphs">RH= 280+22cm</text>
<text x="1220" y="686" font-size="26" fill="#aaa" text-anchor="middle" letter-spacing="1">120/120</text>
<text x="1083" y="592" font-size="22" fill="#888">A</text>
<text x="1067" y="617" font-size="17" fill="#888">Fli</text>
<text x="1067" y="640" font-size="17" fill="#888">F:2</text>
<rect x="1079" y="571" width="147" height="68" class="bx"/>
<g stroke="#555"><line x1="1079" y1="588" x2="1226" y2="588"/><line x1="1079" y1="604" x2="1226" y2="604"/><line x1="1079" y1="621" x2="1226" y2="621"/></g>
<g font-size="11" fill="#000" text-anchor="middle"><text x="1152" y="584">Wandgerät</text><text x="1152" y="600" textLength="88" lengthAdjust="spacingAndGlyphs">DAIKIN / FXAA40A</text><text x="1152" y="617" textLength="138" lengthAdjust="spacingAndGlyphs">4,5 kW Kühlleistung (nom.)</text><text x="1152" y="634" textLength="124" lengthAdjust="spacingAndGlyphs">Schalldruck 1m: 37dB(A)</text></g>
<line x1="1150" y1="639" x2="1140" y2="745" stroke="#222"/>

<text x="1524" y="590" font-size="22" fill="#888" text-anchor="middle">Gang</text>
<text x="1524" y="613" font-size="17" fill="#888" text-anchor="middle">Fliesen</text>
<text x="1524" y="636" font-size="17" fill="#888" text-anchor="middle" textLength="60" lengthAdjust="spacingAndGlyphs">F:6.7M2</text>
<rect x="1339" y="639" width="244" height="29" fill="#fff" stroke="#f55" stroke-width="1"/>
<text x="1461" y="660" font-size="17" fill="#f00" text-anchor="middle" textLength="232" lengthAdjust="spacingAndGlyphs">Edelstahl-Heizkreisverteiler 5 HK</text>
<line x1="1583" y1="660" x2="1636" y2="795" stroke="#f00"/>
<rect x="1632" y="793" width="9" height="40" fill="#f00"/>
<text x="1443" y="686" font-size="10" fill="#555">RW-FR</text><circle cx="1450" cy="694" r="4" fill="#fff" stroke="#777"/>
<text x="1431" y="731" font-size="17" fill="#aaa" letter-spacing="2">EN 179</text>
<text x="1366" y="750" font-size="14" font-weight="bold" fill="#777" textLength="64" lengthAdjust="spacingAndGlyphs">DL 100/200</text>
<text x="1366" y="767" font-size="14" font-weight="bold" fill="#777" textLength="64" lengthAdjust="spacingAndGlyphs">ML 110/205</text>
<polygon points="1438,762 1455,750 1455,757 1478,757 1478,767 1455,767 1455,774" fill="#808080"/>
<text x="1460" y="782" font-size="16" font-weight="bold" fill="#777">Ei30</text>
<text transform="translate(1484,726) rotate(90)" font-size="12" fill="#777">NA</text>
<path d="M1347,723 A70,70 0 0 0 1405,776" fill="none" stroke="#888"/>
<circle cx="1481" cy="806" r="7" fill="none" stroke="#f0f" stroke-width="1.2"/>

<!-- Umkleide Da -->
<g fill="none" stroke="#888" stroke-width="1">
<rect x="1585" y="797" width="47" height="188"/>
<path d="M1585,797 L1632,828 M1632,797 L1585,828 M1585,828 L1632,859 M1632,828 L1585,859 M1585,859 L1632,890 M1632,859 L1585,890 M1585,890 L1632,921 M1632,890 L1585,921 M1585,921 L1632,952 M1632,921 L1585,952 M1585,952 L1632,985 M1632,952 L1585,985"/>
<rect x="1846" y="849" width="28" height="185"/>
<path d="M1846,849 L1874,870 M1874,849 L1846,870 M1846,870 L1874,891 M1874,870 L1846,891 M1846,891 L1874,912 M1874,891 L1846,912 M1846,912 L1874,933 M1874,912 L1846,933 M1846,933 L1874,954 M1874,933 L1846,954 M1846,954 L1874,975 M1874,954 L1846,975 M1846,975 L1874,996 M1874,975 L1846,996 M1846,996 L1874,1017 M1874,996 L1846,1017 M1846,1017 L1874,1034 M1874,1017 L1846,1034"/>
<path d="M1641,830 A60,60 0 0 0 1690,800"/>
</g>
<text x="1532" y="849" font-size="25" fill="#888" text-anchor="middle" textLength="123" lengthAdjust="spacingAndGlyphs">Umkleide Da.</text>
<text x="1532" y="873" font-size="19" fill="#888" text-anchor="middle">PVC</text>
<text x="1532" y="898" font-size="19" fill="#888" text-anchor="middle" textLength="74" lengthAdjust="spacingAndGlyphs">F:14.1M2</text>
<text x="1532" y="915" font-size="15" fill="#888" text-anchor="middle" textLength="92" lengthAdjust="spacingAndGlyphs">RH= 280+22cm</text>
<text x="1541" y="937" font-size="10" font-weight="bold" fill="#222" text-anchor="middle" text-decoration="underline" textLength="78" lengthAdjust="spacingAndGlyphs">Umkleide Damen</text>
<text x="1541" y="947" font-size="7" fill="#1c1" text-anchor="middle">natürliche Belüftung</text>
<text transform="translate(1512,796) rotate(-90)" font-size="12" fill="#555">80</text><text transform="translate(1526,802) rotate(-90)" font-size="12" fill="#555">200</text>
<text transform="translate(1466,930) rotate(-90)" font-size="12" fill="#555">80</text><text transform="translate(1480,936) rotate(-90)" font-size="12" fill="#555">200</text>
<text x="1426" y="967" font-size="10" fill="#222">DN25</text>
<text x="1648" y="970" font-size="10" fill="#222">DN25</text>
<text x="1268" y="1036" font-size="10" fill="#222">DN25</text>

<!-- WC-D -->
<rect x="1313" y="920" width="8" height="123" fill="url(#hat)" stroke="#888"/>
<g fill="none" stroke="#888"><ellipse cx="1342" cy="958" rx="15" ry="10"/><ellipse cx="1342" cy="1010" rx="15" ry="10"/></g>
<text x="1420" y="953" font-size="14" fill="#777">80</text><text x="1415" y="969" font-size="14" fill="#777">200</text>
<text x="1420" y="1012" font-size="14" fill="#777">80</text><text x="1415" y="1030" font-size="14" fill="#777">200</text>
<text x="1425" y="993" font-size="10" font-weight="bold" fill="#222">WC-D</text>
<text x="1412" y="1005" font-size="10" fill="#f0f">ZUL: -- m³/h</text>
<text x="1460" y="1016" font-size="10" fill="#f90">ABL: 120 m³/h</text>

<!-- Umkleide Hr -->
<text x="1757" y="900" font-size="25" fill="#888" text-anchor="middle" textLength="123" lengthAdjust="spacingAndGlyphs">Umkleide Hr.</text>
<text x="1757" y="924" font-size="19" fill="#888" text-anchor="middle">Fliesen</text>
<text x="1757" y="949" font-size="19" fill="#888" text-anchor="middle" textLength="74" lengthAdjust="spacingAndGlyphs">F:15.5M2</text>
<text x="1757" y="967" font-size="15" fill="#888" text-anchor="middle" textLength="92" lengthAdjust="spacingAndGlyphs">RH= 280+22cm</text>
<text x="1760" y="1000" font-size="10" font-weight="bold" fill="#222" text-anchor="middle" text-decoration="underline" textLength="78" lengthAdjust="spacingAndGlyphs">Umkleide Herren</text>
<text x="1760" y="1010" font-size="7" fill="#1c1" text-anchor="middle">natürliche Belüftung</text>
<g font-size="10" fill="#666" text-anchor="middle">
<text x="1573" y="1026">PH=100cm</text><text x="1573" y="1040">STUK=260cm</text>
<text x="1689" y="1026">PH=100cm</text><text x="1689" y="1040">STUK=260cm</text>
<text x="1785" y="1026">PH=100cm</text><text x="1785" y="1040">STUK=260cm</text>
</g>
<g font-size="10" fill="#666">
<text transform="translate(1578,1085) rotate(-90)">150</text><text transform="translate(1590,1085) rotate(-90)">160</text>
<text transform="translate(1680,1085) rotate(-90)">150</text><text transform="translate(1692,1085) rotate(-90)">160</text>
<text transform="translate(1780,1085) rotate(-90)">150</text><text transform="translate(1792,1085) rotate(-90)">160</text>
</g>
<text x="1667" y="730" font-size="10" fill="#222">DN15</text>
<text x="1693" y="753" font-size="14" fill="#777">80</text><text x="1687" y="770" font-size="14" fill="#777">200</text>
<text x="1769" y="747" font-size="14" fill="#777">80</text><text x="1765" y="764" font-size="14" fill="#777">200</text>
<text x="1743" y="774" font-size="10" font-weight="bold" fill="#222">WC-H</text>
<text x="1730" y="791" font-size="10" fill="#f0f">ZUL: -- m³/h</text>
<text x="1724" y="803" font-size="10" fill="#f90">ABL: 100 m³/h</text>
<text x="1818" y="789" font-size="16" fill="#222">Ø 160</text>
<text x="1805" y="874" font-size="16" fill="#222">Ø 125</text>
<text x="1745" y="823" font-size="10" fill="#222">DN20</text>
<text transform="translate(1707,855) rotate(-90)" font-size="10" fill="#333">UP Rohrbelüfter</text>
<g fill="none" stroke="#888"><ellipse cx="1750" cy="735" rx="13" ry="10"/><ellipse cx="1856" cy="780" rx="10" ry="12"/><ellipse cx="1856" cy="820" rx="10" ry="12"/><path d="M1735,812 A15,20 0 0 1 1745,790"/></g>
<rect x="1861" y="705" width="13" height="136" fill="url(#hat)" stroke="#888"/>
<g stroke="#44f" fill="none"><polyline points="1642,790 1642,735 1824,735"/></g>
<line x1="1690" y1="737" x2="1840" y2="737" stroke="#f44"/>

<!-- yellow ducts -->
<g fill="none" stroke-linecap="round" stroke-linejoin="round">
<path d="M1361,1014 L1361,956 M1366,978 L1814,978 Q1824,978 1824,968 L1824,725 Q1824,713 1836,713 L1865,713" stroke="#333" stroke-width="10"/>
<path d="M1361,1014 L1361,956 M1366,978 L1814,978 Q1824,978 1824,968 L1824,725 Q1824,713 1836,713 L1865,713" stroke="#f0b000" stroke-width="7"/>
<path d="M1366,978 L1814,978 M1824,968 L1824,725" stroke="#333" stroke-width="1" stroke-dasharray="10,3,2,3"/>
</g>
<g fill="#222"><circle cx="1865" cy="713" r="7"/><circle cx="1824" cy="736" r="6"/><circle cx="1824" cy="800" r="6"/><circle cx="1361" cy="958" r="6"/><circle cx="1361" cy="1014" r="6"/></g>
<g fill="#f0b000"><circle cx="1865" cy="713" r="3"/><circle cx="1824" cy="736" r="2.5"/><circle cx="1824" cy="800" r="2.5"/><circle cx="1361" cy="958" r="2.5"/><circle cx="1361" cy="1014" r="2.5"/></g>
<g stroke="#fb0" stroke-width="2.5">
<path d="M1811,723 L1818,730 M1837,723 L1830,730 M1811,749 L1818,742 M1837,749 L1830,742"/>
<path d="M1811,787 L1818,794 M1837,787 L1830,794 M1811,813 L1818,806 M1837,813 L1830,806"/>
<path d="M1348,945 L1355,952 M1374,945 L1367,952 M1348,971 L1355,964 M1374,971 L1367,964"/>
<path d="M1348,1001 L1355,1008 M1374,1001 L1367,1008 M1348,1027 L1355,1020 M1374,1027 L1367,1020"/>
</g>

<!-- top boxes right -->
<rect x="1643" y="639" width="122" height="35" class="bx"/><line x1="1643" y1="656" x2="1765" y2="656" stroke="#555"/>
<text x="1704" y="652" font-size="11" fill="#000" text-anchor="middle" textLength="114" lengthAdjust="spacingAndGlyphs">5L Untertischspeicher</text>
<text x="1704" y="670" font-size="11" fill="#000" text-anchor="middle" textLength="112" lengthAdjust="spacingAndGlyphs">Austria Email / 2,0kW</text>
<line x1="1700" y1="674" x2="1740" y2="810" stroke="#222"/>
<rect x="1775" y="608" width="92" height="68" class="bx"/>
<g stroke="#555"><line x1="1775" y1="625" x2="1867" y2="625"/><line x1="1775" y1="642" x2="1867" y2="642"/><line x1="1775" y1="659" x2="1867" y2="659"/></g>
<g font-size="11" fill="#000" text-anchor="middle"><text x="1821" y="621">60m³/h</text><text x="1821" y="638">Type: KSO-100</text><text x="1821" y="655" textLength="86" lengthAdjust="spacingAndGlyphs">Fabrikat: Pichler</text><text x="1821" y="672">Abluftventil</text></g>
<line x1="1866" y1="676" x2="1830" y2="735" stroke="#222"/>
<text x="2003" y="575" font-size="22" fill="#888" text-anchor="middle" textLength="78" lengthAdjust="spacingAndGlyphs">San. Hr.</text>
<text x="2003" y="600" font-size="17" fill="#888" text-anchor="middle">Fliesen</text>
<text x="2003" y="623" font-size="17" fill="#888" text-anchor="middle" textLength="60" lengthAdjust="spacingAndGlyphs">F:6.2M2</text>
<text x="2003" y="642" font-size="14" fill="#888" text-anchor="middle" textLength="92" lengthAdjust="spacingAndGlyphs">RH= 280+22cm</text>
<line x1="1965" y1="616" x2="1876" y2="695" stroke="#777"/>
<text x="1915" y="756" font-size="11" fill="#555">FR</text>
<rect x="1902" y="790" width="92" height="69" class="bx"/>
<g stroke="#555"><line x1="1902" y1="807" x2="1994" y2="807"/><line x1="1902" y1="824" x2="1994" y2="824"/><line x1="1902" y1="841" x2="1994" y2="841"/></g>
<g font-size="11" fill="#000" text-anchor="middle"><text x="1948" y="803">Abluftventil</text><text x="1948" y="820" textLength="86" lengthAdjust="spacingAndGlyphs">Fabrikat: Pichler</text><text x="1948" y="837">Type: KSO-100</text><text x="1948" y="854">40m³/h</text></g>
<line x1="1902" y1="824" x2="1830" y2="802" stroke="#222"/>

<!-- bottom boxes -->
<rect x="1310" y="1092" width="94" height="68" class="bx"/>
<g stroke="#555"><line x1="1310" y1="1109" x2="1404" y2="1109"/><line x1="1310" y1="1126" x2="1404" y2="1126"/><line x1="1310" y1="1143" x2="1404" y2="1143"/></g>
<g font-size="11" fill="#000" text-anchor="middle"><text x="1357" y="1105">Abluftventil</text><text x="1357" y="1122" textLength="86" lengthAdjust="spacingAndGlyphs">Fabrikat: Pichler</text><text x="1357" y="1139">Type: KSO-100</text><text x="1357" y="1156">60m³/h</text></g>
<line x1="1312" y1="1092" x2="1358" y2="960" stroke="#222"/><line x1="1314" y1="1092" x2="1360" y2="1016" stroke="#222"/>
<rect x="1431" y="1092" width="120" height="34" class="bx"/><line x1="1431" y1="1109" x2="1551" y2="1109" stroke="#555"/>
<text x="1491" y="1105" font-size="11" fill="#000" text-anchor="middle" textLength="112" lengthAdjust="spacingAndGlyphs">5L Untertischspeicher</text>
<text x="1491" y="1122" font-size="11" fill="#000" text-anchor="middle" textLength="110" lengthAdjust="spacingAndGlyphs">Austria Email / 2,0kW</text>
<line x1="1474" y1="1092" x2="1480" y2="1000" stroke="#222"/>
<line x1="1475" y1="1126" x2="1533" y2="1190" stroke="#777"/>
<g font-size="11" fill="#777" text-anchor="end">
<text x="1505" y="1186" textLength="150" lengthAdjust="spacingAndGlyphs">Garderobe Damen (20 Personen)</text>
<text x="1505" y="1201" textLength="182" lengthAdjust="spacingAndGlyphs">je Person mind 0,60m² frei Fläche</text>
<text x="1505" y="1217" textLength="105" lengthAdjust="spacingAndGlyphs">vorhanden 16,60m²</text>
</g>
<text x="1561" y="1228" font-size="21" fill="#888" text-anchor="middle" textLength="76" lengthAdjust="spacingAndGlyphs">San. Da.</text>
<text x="1561" y="1252" font-size="17" fill="#888" text-anchor="middle">Fliesen</text>
<text x="1561" y="1275" font-size="17" fill="#888" text-anchor="middle" textLength="60" lengthAdjust="spacingAndGlyphs">F:6.3M2</text>
<text x="1561" y="1294" font-size="14" fill="#888" text-anchor="middle" textLength="92" lengthAdjust="spacingAndGlyphs">RH= 280+22cm</text>

<!-- Title -->
<text x="446" y="1440" font-size="56" font-weight="bold" fill="#808080" textLength="1435" lengthAdjust="spacingAndGlyphs">Grundriss 2.OG Eingangsbereich</text>
</svg>
</body></html>
